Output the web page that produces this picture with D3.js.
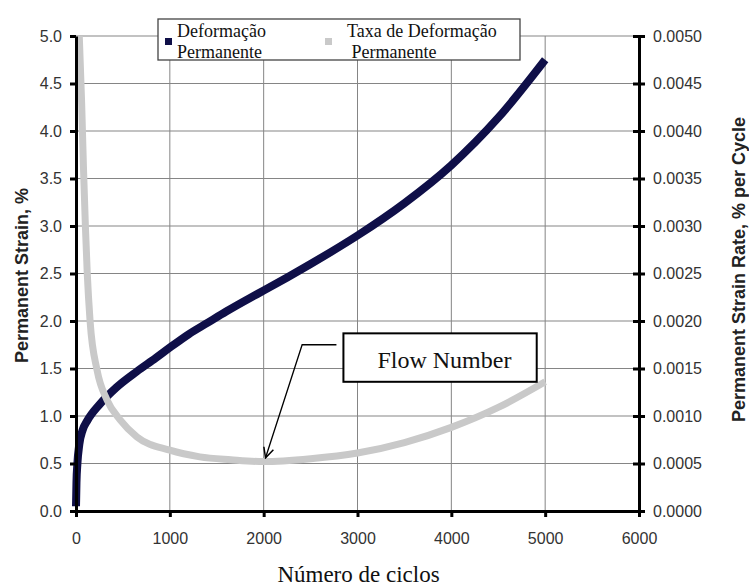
<!DOCTYPE html>
<html>
<head>
<meta charset="utf-8">
<script src="https://cdn.jsdelivr.net/npm/d3@7"></script>
<style>
  body { margin: 0; background: #fff; }
  svg { display: block; }
</style>
</head>
<body>
<script>
// cycles vs permanent strain (%)
const strainData = [
  [0, 0.05], [5, 0.3], [15, 0.5], [35, 0.7], [70, 0.85], [120, 0.95],
  [250, 1.12], [430, 1.30], [650, 1.47], [850, 1.61], [1000, 1.72],
  [1200, 1.86], [1400, 1.98], [1600, 2.10], [1850, 2.24], [2000, 2.32],
  [2500, 2.60], [3000, 2.90], [3500, 3.24], [4000, 3.64],
  [4500, 4.14], [5000, 4.75]
]

// cycles vs permanent strain rate (% per cycle)
const rateData = [
  [35, 0.0050], [60, 0.0043], [80, 0.0036], [100, 0.0030], [120, 0.0025],
  [150, 0.0020], [225, 0.00148], [330, 0.00117], [470, 0.00096],
  [650, 0.00078], [1000, 0.00064], [1320, 0.00057], [1650, 0.00054],
  [2000, 0.00052], [2500, 0.00055], [3000, 0.00061], [3500, 0.00072],
  [4000, 0.00088], [4500, 0.00109], [5000, 0.00136]
]

const xTicks = [0, 1000, 2000, 3000, 4000, 5000, 6000]
const leftTicks = [0, 0.5, 1, 1.5, 2, 2.5, 3, 3.5, 4, 4.5, 5]
const rightTicks = [0, 0.0005, 0.001, 0.0015, 0.002, 0.0025, 0.003, 0.0035, 0.004, 0.0045, 0.005]

const legendLabels = [['Deformação', 'Permanente'], ['Taxa de Deformação', ' Permanente']]
const flowLabel = 'Flow Number'

const width = 749
const height = 587
const plot = { left: 76, right: 639, top: 36, bottom: 511 }

const x = d3.scaleLinear().domain([0, 6000]).range([plot.left, plot.right])
const yL = d3.scaleLinear().domain([0, 5]).range([plot.bottom, plot.top])
const yR = d3.scaleLinear().domain([0, 0.005]).range([plot.bottom, plot.top])

const svg = d3.select('body').append('svg')
    .attr('width', width)
    .attr('height', height)
    .style('background-color', '#fff')

// grid
svg.append('g')
    .selectAll('line')
    .data(leftTicks.slice(1))
    .enter().append('line')
    .attr('x1', plot.left).attr('x2', plot.right)
    .attr('y1', d => yL(d)).attr('y2', d => yL(d))
    .attr('stroke', '#858585')
    .attr('stroke-width', 1)

svg.append('g')
    .selectAll('line')
    .data(xTicks.slice(1, -1))
    .enter().append('line')
    .attr('x1', d => x(d)).attr('x2', d => x(d))
    .attr('y1', plot.top).attr('y2', plot.bottom)
    .attr('stroke', '#858585')
    .attr('stroke-width', 1)

// series
const strainLine = d3.line()
    .x(d => x(d[0]))
    .y(d => yL(d[1]))
    .curve(d3.curveMonotoneX)

const rateLine = d3.line()
    .x(d => x(d[0]))
    .y(d => yR(d[1]))
    .curve(d3.curveMonotoneX)

svg.append('path')
    .datum(strainData)
    .attr('d', strainLine)
    .attr('fill', 'none')
    .attr('stroke', '#0f0f48')
    .attr('stroke-width', 8)

svg.append('path')
    .datum(rateData)
    .attr('d', rateLine)
    .attr('fill', 'none')
    .attr('stroke', '#c9c9c9')
    .attr('stroke-width', 7)

// axes
const tickFont = g => {
    g.selectAll('text')
        .style('font-family', '"Liberation Sans", Arial, sans-serif')
        .style('font-size', '16px')
        .attr('fill', '#333')
    g.selectAll('line').attr('stroke', '#000').attr('stroke-width', 3)
    g.select('.domain').attr('stroke', '#000').attr('stroke-width', 3)
}

svg.append('g')
    .attr('transform', `translate(${plot.left},0)`)
    .call(d3.axisLeft(yL).tickValues(leftTicks).tickFormat(d3.format('.1f'))
        .tickSize(6).tickSizeOuter(0).tickPadding(8))
    .call(tickFont)

svg.append('g')
    .attr('transform', `translate(0,${plot.bottom})`)
    .call(d3.axisBottom(x).tickValues(xTicks).tickFormat(d3.format('d'))
        .tickSize(6).tickSizeOuter(0).tickPadding(16))
    .call(tickFont)

svg.append('g')
    .attr('transform', `translate(${plot.right},0)`)
    .call(d3.axisRight(yR).tickValues(rightTicks).tickFormat(d3.format('.4f'))
        .tickSize(6).tickSizeOuter(0).tickPadding(8))
    .call(tickFont)
    .call(g => g.selectAll('.tick line').attr('x1', -6))

// axis titles
const midY = (plot.top + plot.bottom) / 2

svg.append('text')
    .attr('transform', `translate(28,${midY + 2}) rotate(-90)`)
    .attr('text-anchor', 'middle')
    .style('font-family', '"Liberation Sans", Arial, sans-serif')
    .style('font-size', '18px')
    .style('font-weight', 'bold')
    .attr('fill', '#222')
    .text('Permanent Strain, %')

svg.append('text')
    .attr('transform', `translate(745,${midY - 4}) rotate(-90)`)
    .attr('text-anchor', 'middle')
    .style('font-family', '"Liberation Sans", Arial, sans-serif')
    .style('font-size', '18px')
    .style('font-weight', 'bold')
    .attr('fill', '#222')
    .text('Permanent Strain Rate, % per Cycle')

svg.append('text')
    .attr('x', (plot.left + plot.right) / 2 + 1)
    .attr('y', 582)
    .attr('text-anchor', 'middle')
    .style('font-family', '"Liberation Serif", "Times New Roman", serif')
    .style('font-size', '23px')
    .attr('fill', '#111')
    .text('Número de ciclos')

// legend
const legend = svg.append('g')
legend.append('rect')
    .attr('x', 158).attr('y', 19)
    .attr('width', 362).attr('height', 41)
    .attr('fill', '#fff')
    .attr('stroke', '#444')
    .attr('stroke-width', 1.3)

const legendColors = ['#0f0f48', '#c9c9c9']
const legendX = [165, 325]
const textX = [177, 347]
legendLabels.forEach((lines, i) => {
    legend.append('rect')
        .attr('x', legendX[i]).attr('y', 38)
        .attr('width', 7).attr('height', 7)
        .attr('fill', legendColors[i])
    lines.forEach((t, j) => {
        legend.append('text')
            .attr('x', textX[i])
            .attr('y', 37 + j * 21)
            .style('font-family', '"Liberation Serif", "Times New Roman", serif')
            .style('font-size', '18px')
            .style('white-space', 'pre')
            .attr('fill', '#111')
            .text(t)
    })
})

// flow number annotation
svg.append('defs').append('marker')
    .attr('id', 'arrow')
    .attr('viewBox', '0 0 12 12')
    .attr('refX', 11).attr('refY', 6)
    .attr('markerWidth', 12).attr('markerHeight', 12)
    .attr('markerUnits', 'userSpaceOnUse')
    .attr('orient', 'auto')
    .append('path')
    .attr('d', 'M1,1 L11,6 L1,11')
    .attr('fill', 'none')
    .attr('stroke', '#000')
    .attr('stroke-width', 1.5)

const bx0 = x(2850), bx1 = x(4910), by0 = yL(1.87), by1 = yL(1.36)
const elbow = [x(2410), yL(1.75)]
const tip = [x(2020), yR(0.00056)]

svg.append('path')
    .attr('d', `M${bx0 - 7},${elbow[1]} L${elbow[0]},${elbow[1]} L${tip[0]},${tip[1]}`)
    .attr('fill', 'none')
    .attr('stroke', '#000')
    .attr('stroke-width', 1.3)
    .attr('marker-end', 'url(#arrow)')

svg.append('rect')
    .attr('x', bx0).attr('y', by0)
    .attr('width', bx1 - bx0).attr('height', by1 - by0)
    .attr('fill', '#fff')
    .attr('stroke', '#000')
    .attr('stroke-width', 2)

svg.append('text')
    .attr('x', bx0 + 34)
    .attr('y', by0 + 35)
    .style('font-family', '"Liberation Serif", "Times New Roman", serif')
    .style('font-size', '24px')
    .attr('fill', '#111')
    .text(flowLabel)
</script>
</body>
</html>
